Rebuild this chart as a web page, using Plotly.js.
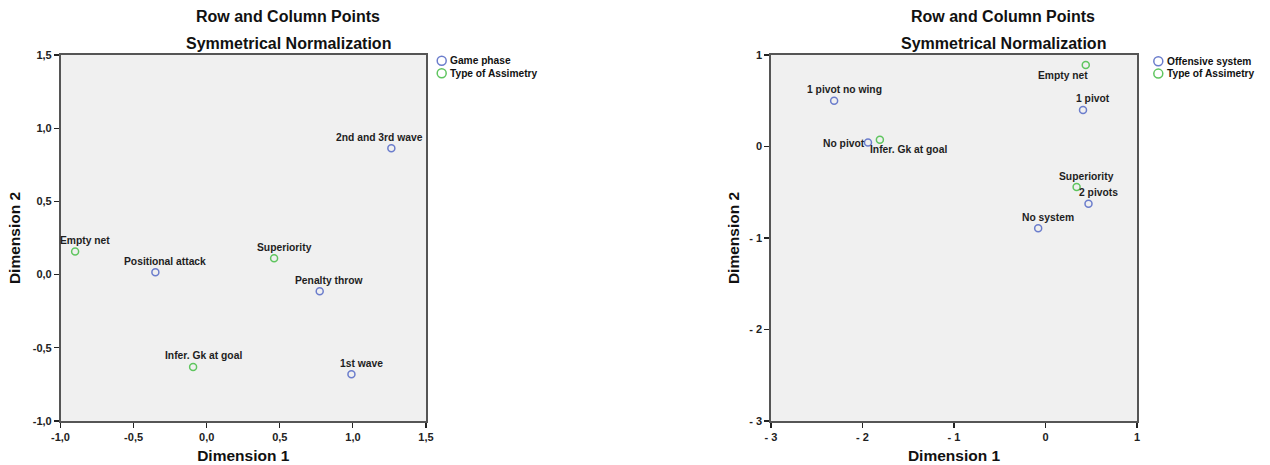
<!DOCTYPE html>
<html><head><meta charset="utf-8">
<script src="https://cdn.plot.ly/plotly-3.0.1.min.js"></script>
<style>html,body{margin:0;padding:0;background:#fff}#chart{width:1270px;height:465px}</style>
</head><body><div id="chart"></div>
<script>
// ---------- data ----------
const leftGameLabels = ['2nd and 3rd wave', 'Positional attack', 'Penalty throw', '1st wave'];
const leftGameX = [1.263, -0.351, 0.773, 0.990];
const leftGameY = [0.863, 0.016, -0.114, -0.681];
const leftAsymLabels = ['Empty net', 'Superiority', 'Infer. Gk at goal'];
const leftAsymX = [-0.90, 0.461, -0.093];
const leftAsymY = [0.158, 0.112, -0.631];

const rightOffLabels = ['1 pivot no wing', 'No pivot', '1 pivot', '2 pivots', 'No system'];
const rightOffX = [-2.31, -1.94, 0.41, 0.47, -0.08];
const rightOffY = [0.50, 0.044, 0.40, -0.625, -0.894];
const rightAsymLabels = ['Empty net', 'Infer. Gk at goal', 'Superiority'];
const rightAsymX = [0.44, -1.81, 0.34];
const rightAsymY = [0.89, 0.073, -0.443];

const leftTicks = [-1, -0.5, 0, 0.5, 1, 1.5];
const leftTickText = ['-1,0', '-0,5', '0,0', '0,5', '1,0', '1,5'];
const rightTicks = [-3, -2, -1, 0, 1];
const rightTickText = ['- 3', '- 2', '- 1', '0', '1'];

const legendLeft = ['Game phase', 'Type of Assimetry'];
const legendRight = ['Offensive system', 'Type of Assimetry'];
const titleLines = ['Row and Column Points', 'Symmetrical Normalization'];
const axisTitles = ['Dimension 1', 'Dimension 2'];

// ---------- styles ----------
const W = 1270, H = 465;
const FONT = '"Liberation Sans", Arial, Helvetica, sans-serif';
const BLUE = '#6b7dcc', GREEN = '#5fc55f';
const px = v => v / W, py = v => 1 - v / H;

// label offsets (pixels) – default: centered 10px right, 11px above
const defShift = [10, 11];
const leftShifts = {'2nd and 3rd wave': [-12, 11]};
const rightShifts = {'Empty net': [-23, -10], 'Infer. Gk at goal': [29, -10], 'No pivot': [-24, -1]};

function markerTrace(x, y, color, xa, ya, name) {
  return {type: 'scatter', mode: 'markers', x: x, y: y, xaxis: xa, yaxis: ya, name: name,
    showlegend: false, hoverinfo: 'none',
    marker: {symbol: 'circle-open', size: 7, color: color, line: {width: 1.5, color: color}}};
}

const data = [
  markerTrace(leftGameX, leftGameY, BLUE, 'x', 'y', legendLeft[0]),
  markerTrace(leftAsymX, leftAsymY, GREEN, 'x', 'y', legendLeft[1]),
  markerTrace(rightOffX, rightOffY, BLUE, 'x2', 'y2', legendRight[0]),
  markerTrace(rightAsymX, rightAsymY, GREEN, 'x2', 'y2', legendRight[1])
];

const annotations = [];
function addLabels(labels, xs, ys, xref, yref, shifts) {
  labels.forEach((t, i) => {
    const s = shifts[t] || defShift;
    annotations.push({text: t, x: xs[i], y: ys[i], xref: xref, yref: yref, showarrow: false,
      xanchor: 'center', yanchor: 'middle', xshift: s[0], yshift: s[1],
      font: {family: FONT, size: 10.3, color: '#1e1e1e', weight: 'bold'}});
  });
}
addLabels(leftGameLabels, leftGameX, leftGameY, 'x', 'y', leftShifts);
addLabels(leftAsymLabels, leftAsymX, leftAsymY, 'x', 'y', leftShifts);
addLabels(rightOffLabels, rightOffX, rightOffY, 'x2', 'y2', rightShifts);
addLabels(rightAsymLabels, rightAsymX, rightAsymY, 'x2', 'y2', rightShifts);

// chart titles
[[288, 16], [288, 43]].forEach((p, i) => annotations.push({text: titleLines[i], xref: 'paper', yref: 'paper',
  x: px(p[0]), y: py(p[1]), xanchor: 'center', yanchor: 'middle', showarrow: false,
  font: {family: FONT, size: 16, color: '#111', weight: 'bold'}}));
[[1003, 16], [1003, 43]].forEach((p, i) => annotations.push({text: titleLines[i], xref: 'paper', yref: 'paper',
  x: px(p[0]), y: py(p[1]), xanchor: 'center', yanchor: 'middle', showarrow: false,
  font: {family: FONT, size: 16, color: '#111', weight: 'bold'}}));

// manual legends
const shapes = [];
function addLegend(names, cx, cy0, dy, textX) {
  names.forEach((n, i) => {
    const cy = cy0 + i * dy;
    const col = i === 0 ? BLUE : GREEN;
    shapes.push({type: 'circle', xref: 'paper', yref: 'paper', xsizemode: 'pixel', ysizemode: 'pixel',
      xanchor: px(cx), yanchor: py(cy), x0: -4.5, x1: 4.5, y0: -4.5, y1: 4.5,
      line: {color: col, width: 1.5}, fillcolor: 'rgba(0,0,0,0)'});
    annotations.push({text: n, xref: 'paper', yref: 'paper', x: px(textX), y: py(cy),
      xanchor: 'left', yanchor: 'middle', showarrow: false,
      font: {family: FONT, size: 10.2, color: '#111', weight: 'bold'}});
  });
}
addLegend(legendLeft, 441.7, 60.7, 12.6, 448);
addLegend(legendRight, 1158.3, 61.3, 12.3, 1165);

function axis(domain, range, ticks, tickText, title, standoff, anchor) {
  return {domain: domain, range: range, tickmode: 'array', tickvals: ticks, ticktext: tickText,
    ticks: 'outside', ticklen: 5, tickwidth: 1.2, tickcolor: '#222',
    showline: true, linecolor: '#555', linewidth: 1.6, mirror: true,
    showgrid: false, zeroline: false, fixedrange: true, automargin: false, anchor: anchor,
    tickfont: {family: FONT, size: 11, color: '#222', weight: 'bold'},
    title: {text: title, standoff: standoff, font: {family: FONT, size: 15.5, color: '#111', weight: 'bold'}}};
}

const yDom = [1 - 421 / H, 1 - 55 / H];
const layout = {
  width: W, height: H, margin: {l: 0, r: 0, t: 0, b: 0, pad: 0},
  paper_bgcolor: '#ffffff', plot_bgcolor: '#f0f0f0', showlegend: false,
  xaxis: axis([60.5 / W, 426 / W], [-1, 1.5], leftTicks, leftTickText, axisTitles[0], 8, 'y'),
  yaxis: axis(yDom, [-1, 1.5], leftTicks, leftTickText, axisTitles[1], 8, 'x'),
  xaxis2: axis([771 / W, 1137 / W], [-3, 1], rightTicks, rightTickText, axisTitles[0], 8, 'y2'),
  yaxis2: axis(yDom, [-3, 1], rightTicks, rightTickText, axisTitles[1], 6, 'x2'),
  annotations: annotations, shapes: shapes
};

Plotly.newPlot('chart', data, layout, {displayModeBar: false, staticPlot: true});
</script>
</body></html>
